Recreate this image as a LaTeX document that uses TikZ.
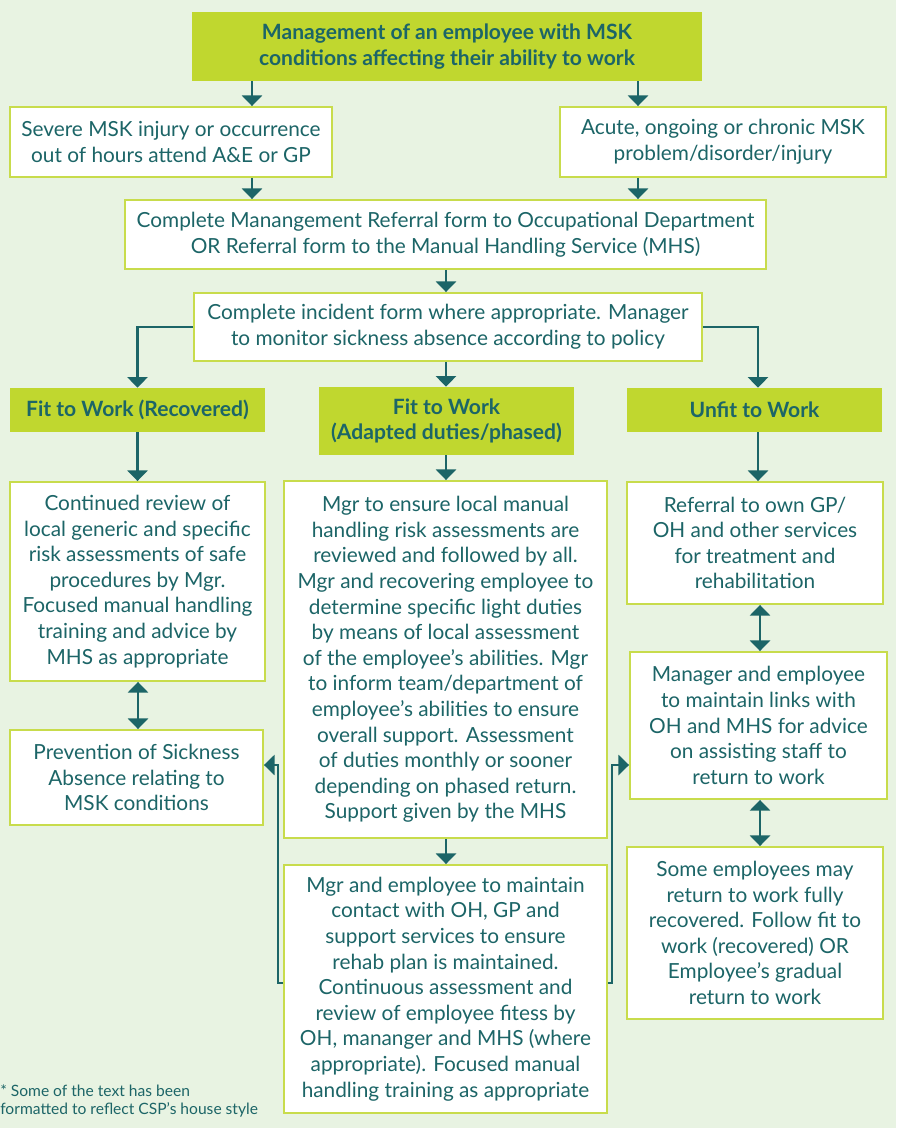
\documentclass[tikz,border=0pt]{standalone}
\usepackage{fontspec}
\setmainfont{Lato}
\usetikzlibrary{arrows.meta}
\definecolor{bgc}{HTML}{E8F3E2}
\definecolor{limec}{HTML}{C0D72F}
\definecolor{bordc}{HTML}{C8DC4C}
\definecolor{tealc}{HTML}{1C6567}
\newcommand\mybox[7]{\node[#6, minimum width={(#4-#2)*0.75pt}, minimum height={(#5-#3)*0.75pt}] (#1) at ({(#2+#4)/2},{(#3+#5)/2}) {#7};}
\tikzset{
  base/.style={rectangle, inner sep=0pt, align=center, text=tealc, font=\fontsize{15.6}{19.2}\selectfont},
  whitebox/.style={base, fill=white, draw=bordc, line width=1.4pt},
  greenbox/.style={base, fill=limec, font=\fontsize{15.8}{19.2}\selectfont\bfseries},
  conn/.style={draw=tealc, line width=2.2pt, -{Triangle[width=15pt,length=8pt]}},
  dconn/.style={draw=tealc, line width=2.2pt, {Triangle[width=15pt,length=8pt]}-{Triangle[width=15pt,length=8pt]}},
  brack/.style={draw=tealc, line width=2.2pt, -{Triangle[width=15pt,length=8pt]}}
}
\begin{document}
\begin{tikzpicture}[x=0.75pt,y=-0.75pt]
\fill[bgc] (0,0) rectangle (896,1128);
\useasboundingbox (0,0) rectangle (896,1128);

\mybox{title}{192}{12}{702}{81}{greenbox}{Management of an employee with MSK\\conditions affecting their ability to work}
\mybox{severe}{10}{107}{332}{177}{whitebox}{Severe MSK injury or occurrence\\out of hours attend A\&E or GP}
\mybox{acute}{560}{107}{886}{177}{whitebox}{Acute, ongoing or chronic MSK\\problem/disorder/injury}
\mybox{referral}{125}{200}{766}{269}{whitebox}{Complete Manangement Referral form to Occupational Department\\OR Referral form to the Manual Handling Service (MHS)}
\mybox{incident}{194}{293}{702}{361}{whitebox}{Complete incident form where appropriate. Manager\\to monitor sickness absence according to policy}
\mybox{fitrec}{10}{388}{265}{432}{greenbox}{Fit to Work (Recovered)}
\mybox{fitad}{319}{387}{574}{455}{greenbox}{Fit to Work\\(Adapted duties/phased)}
\mybox{unfit}{627}{388}{882}{432}{greenbox}{Unfit to Work}
\mybox{contrev}{10}{482}{265}{681}{whitebox}{Continued review of\\local generic and specific\\risk assessments of safe\\procedures by Mgr.\\Focused manual handling\\training and advice by\\MHS as appropriate}
\mybox{prev}{10}{730}{263}{825}{whitebox}{Prevention of Sickness\\Absence relating to\\MSK conditions}
\mybox{mgrens}{284}{481}{607}{838}{whitebox}{Mgr to ensure local manual\\handling risk assessments are\\reviewed and followed by all.\\Mgr and recovering employee to\\determine specific light duties\\by means of local assessment\\of the employee’s abilities. Mgr\\to inform team/department of\\employee’s abilities to ensure\\overall support. Assessment\\of duties monthly or sooner\\depending on phased return.\\Support given by the MHS}
\mybox{mgremp}{284}{865}{607}{1113}{whitebox}{Mgr and employee to maintain\\contact with OH, GP and\\support services to ensure\\rehab plan is maintained.\\Continuous assessment and\\review of employee fitess by\\OH, mananger and MHS (where\\appropriate). Focused manual\\handling training as appropriate}
\mybox{gpref}{627}{482}{883}{604}{whitebox}{Referral to own GP/\\OH and other services\\for treatment and\\rehabilitation}
\mybox{links}{630}{652}{887}{799}{whitebox}{Manager and employee\\to maintain links with\\OH and MHS for advice\\on assisting staff to\\return to work}
\mybox{some}{627}{847}{883}{1019}{whitebox}{Some employees may\\return to work fully\\recovered. Follow fit to\\work (recovered) OR\\Employee’s gradual\\return to work}

\node[anchor=west, align=left, inner sep=0pt, text=tealc, font=\fontsize{11.7}{14}\selectfont] (foot) at (0,1101) {* Some of the text has been\\formatted to reflect CSP’s house style};

% connectors
\draw[conn] (title.south -| 252,0) -- (severe.north -| 252,0);
\draw[conn] (title.south -| 638,0) -- (acute.north -| 638,0);
\draw[conn] (severe.south -| 252,0) -- (referral.north -| 252,0);
\draw[conn] (acute.south -| 638,0) -- (referral.north -| 638,0);
\draw[conn] (referral.south -| 446,0) -- (incident.north -| 446,0);
\draw[conn] (incident.west) -| (fitrec.north);
\draw[conn] (incident.east) -| (unfit.north -| 758,0);
\draw[conn] (incident.south -| 446,0) -- (fitad.north -| 446,0);
\draw[conn] (fitrec.south) -- (contrev.north -| fitrec.south);
\draw[conn] (fitad.south -| 446,0) -- (mgrens.north -| 446,0);
\draw[conn] (unfit.south -| 758,0) -- (gpref.north -| 758,0);
\draw[dconn] (contrev.south -| 138,0) -- (prev.north -| 138,0);
\draw[conn] (mgrens.south -| 446,0) -- (mgremp.north -| 446,0);
\draw[dconn] (gpref.south -| 760,0) -- (links.north -| 760,0);
\draw[dconn] (links.south -| 760,0) -- (some.north -| 760,0);
\coordinate (lb) at (278,983);
\coordinate (rb) at (612,983);
\draw[brack] (mgremp.west |- lb) -- (lb) -- (278,765) -- (prev.east |- 0,765);
\draw[brack] (mgremp.east |- rb) -- (rb) -- (612,765) -- (links.west |- 0,765);
\end{tikzpicture}
\end{document}
